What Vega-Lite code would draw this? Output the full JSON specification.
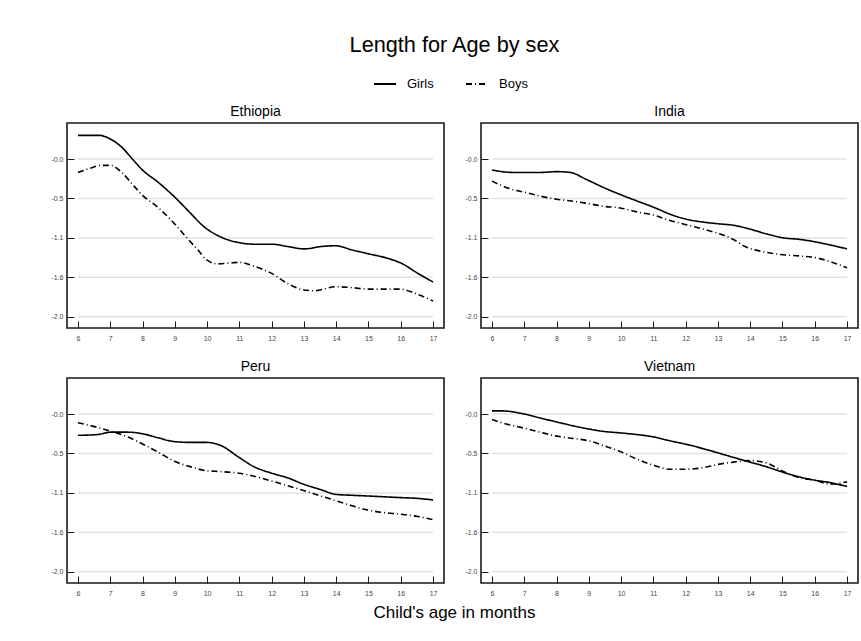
{
  "$schema": "https://vega.github.io/schema/vega-lite/v6.json",
  "background": "white",
  "padding": {"left": 50, "top": 35, "right": 2, "bottom": 5},
  "title": {"text": "Length for Age by sex", "fontSize": 21.7, "anchor": "middle", "offset": 15, "font": "Liberation Sans", "fontWeight": "normal", "color": "black"},
  "datasets": {
    "grid": [{"t": 0}, {"t": -0.5}, {"t": -1}, {"t": -1.5}, {"t": -2}],
    "main": [
      {"c":"Ethiopia","s":"Girls","m":6,"v":0.30},{"c":"Ethiopia","s":"Girls","m":6.66,"v":0.30},{"c":"Ethiopia","s":"Girls","m":7.02,"v":0.25},{"c":"Ethiopia","s":"Girls","m":7.33,"v":0.16},{"c":"Ethiopia","s":"Girls","m":7.75,"v":-0.03},{"c":"Ethiopia","s":"Girls","m":8.0,"v":-0.14},{"c":"Ethiopia","s":"Girls","m":8.47,"v":-0.29},{"c":"Ethiopia","s":"Girls","m":8.99,"v":-0.48},{"c":"Ethiopia","s":"Girls","m":9.4,"v":-0.65},{"c":"Ethiopia","s":"Girls","m":9.91,"v":-0.86},{"c":"Ethiopia","s":"Girls","m":10.43,"v":-0.99},{"c":"Ethiopia","s":"Girls","m":10.99,"v":-1.06},{"c":"Ethiopia","s":"Girls","m":11.47,"v":-1.08},{"c":"Ethiopia","s":"Girls","m":12.0,"v":-1.08},{"c":"Ethiopia","s":"Girls","m":12.5,"v":-1.11},{"c":"Ethiopia","s":"Girls","m":13.02,"v":-1.14},{"c":"Ethiopia","s":"Girls","m":13.53,"v":-1.11},{"c":"Ethiopia","s":"Girls","m":14.0,"v":-1.1},{"c":"Ethiopia","s":"Girls","m":14.46,"v":-1.15},{"c":"Ethiopia","s":"Girls","m":14.98,"v":-1.2},{"c":"Ethiopia","s":"Girls","m":15.6,"v":-1.26},{"c":"Ethiopia","s":"Girls","m":16.01,"v":-1.32},{"c":"Ethiopia","s":"Girls","m":16.53,"v":-1.45},{"c":"Ethiopia","s":"Girls","m":17.0,"v":-1.56},
      {"c":"Ethiopia","s":"Boys","m":6,"v":-0.17},{"c":"Ethiopia","s":"Boys","m":6.35,"v":-0.12},{"c":"Ethiopia","s":"Boys","m":6.71,"v":-0.08},{"c":"Ethiopia","s":"Boys","m":7.02,"v":-0.08},{"c":"Ethiopia","s":"Boys","m":7.33,"v":-0.16},{"c":"Ethiopia","s":"Boys","m":7.75,"v":-0.35},{"c":"Ethiopia","s":"Boys","m":8.0,"v":-0.46},{"c":"Ethiopia","s":"Boys","m":8.47,"v":-0.61},{"c":"Ethiopia","s":"Boys","m":8.99,"v":-0.82},{"c":"Ethiopia","s":"Boys","m":9.35,"v":-0.99},{"c":"Ethiopia","s":"Boys","m":9.71,"v":-1.15},{"c":"Ethiopia","s":"Boys","m":9.99,"v":-1.28},{"c":"Ethiopia","s":"Boys","m":10.33,"v":-1.33},{"c":"Ethiopia","s":"Boys","m":10.99,"v":-1.31},{"c":"Ethiopia","s":"Boys","m":11.46,"v":-1.36},{"c":"Ethiopia","s":"Boys","m":12.0,"v":-1.45},{"c":"Ethiopia","s":"Boys","m":12.5,"v":-1.58},{"c":"Ethiopia","s":"Boys","m":12.99,"v":-1.66},{"c":"Ethiopia","s":"Boys","m":13.32,"v":-1.67},{"c":"Ethiopia","s":"Boys","m":14.0,"v":-1.62},{"c":"Ethiopia","s":"Boys","m":14.46,"v":-1.63},{"c":"Ethiopia","s":"Boys","m":15.0,"v":-1.65},{"c":"Ethiopia","s":"Boys","m":15.99,"v":-1.65},{"c":"Ethiopia","s":"Boys","m":16.42,"v":-1.7},{"c":"Ethiopia","s":"Boys","m":17.0,"v":-1.8},
      {"c":"India","s":"Girls","m":6,"v":-0.14},{"c":"India","s":"Girls","m":6.66,"v":-0.17},{"c":"India","s":"Girls","m":7.0,"v":-0.17},{"c":"India","s":"Girls","m":7.49,"v":-0.17},{"c":"India","s":"Girls","m":8.0,"v":-0.16},{"c":"India","s":"Girls","m":8.42,"v":-0.17},{"c":"India","s":"Girls","m":8.93,"v":-0.26},{"c":"India","s":"Girls","m":9.45,"v":-0.36},{"c":"India","s":"Girls","m":9.97,"v":-0.45},{"c":"India","s":"Girls","m":10.48,"v":-0.53},{"c":"India","s":"Girls","m":11.0,"v":-0.61},{"c":"India","s":"Girls","m":11.52,"v":-0.7},{"c":"India","s":"Girls","m":11.98,"v":-0.76},{"c":"India","s":"Girls","m":12.55,"v":-0.8},{"c":"India","s":"Girls","m":12.98,"v":-0.82},{"c":"India","s":"Girls","m":13.48,"v":-0.84},{"c":"India","s":"Girls","m":14.0,"v":-0.89},{"c":"India","s":"Girls","m":14.51,"v":-0.95},{"c":"India","s":"Girls","m":15.03,"v":-1.0},{"c":"India","s":"Girls","m":15.55,"v":-1.02},{"c":"India","s":"Girls","m":16.01,"v":-1.05},{"c":"India","s":"Girls","m":16.48,"v":-1.09},{"c":"India","s":"Girls","m":17.0,"v":-1.14},
      {"c":"India","s":"Boys","m":6,"v":-0.28},{"c":"India","s":"Boys","m":6.66,"v":-0.39},{"c":"India","s":"Boys","m":7.0,"v":-0.42},{"c":"India","s":"Boys","m":7.49,"v":-0.47},{"c":"India","s":"Boys","m":8.0,"v":-0.51},{"c":"India","s":"Boys","m":8.42,"v":-0.53},{"c":"India","s":"Boys","m":8.93,"v":-0.56},{"c":"India","s":"Boys","m":9.45,"v":-0.6},{"c":"India","s":"Boys","m":9.97,"v":-0.62},{"c":"India","s":"Boys","m":10.48,"v":-0.67},{"c":"India","s":"Boys","m":11.0,"v":-0.71},{"c":"India","s":"Boys","m":11.52,"v":-0.78},{"c":"India","s":"Boys","m":11.98,"v":-0.83},{"c":"India","s":"Boys","m":12.55,"v":-0.89},{"c":"India","s":"Boys","m":12.98,"v":-0.94},{"c":"India","s":"Boys","m":13.48,"v":-1.02},{"c":"India","s":"Boys","m":13.84,"v":-1.11},{"c":"India","s":"Boys","m":14.46,"v":-1.18},{"c":"India","s":"Boys","m":14.93,"v":-1.21},{"c":"India","s":"Boys","m":15.55,"v":-1.23},{"c":"India","s":"Boys","m":16.01,"v":-1.25},{"c":"India","s":"Boys","m":16.48,"v":-1.3},{"c":"India","s":"Boys","m":17.0,"v":-1.38},
      {"c":"Peru","s":"Girls","m":6,"v":-0.27},{"c":"Peru","s":"Girls","m":6.61,"v":-0.26},{"c":"Peru","s":"Girls","m":7.02,"v":-0.23},{"c":"Peru","s":"Girls","m":7.54,"v":-0.23},{"c":"Peru","s":"Girls","m":8.0,"v":-0.25},{"c":"Peru","s":"Girls","m":8.47,"v":-0.3},{"c":"Peru","s":"Girls","m":8.99,"v":-0.35},{"c":"Peru","s":"Girls","m":9.5,"v":-0.36},{"c":"Peru","s":"Girls","m":9.99,"v":-0.36},{"c":"Peru","s":"Girls","m":10.43,"v":-0.4},{"c":"Peru","s":"Girls","m":10.99,"v":-0.55},{"c":"Peru","s":"Girls","m":11.46,"v":-0.67},{"c":"Peru","s":"Girls","m":12.0,"v":-0.75},{"c":"Peru","s":"Girls","m":12.5,"v":-0.81},{"c":"Peru","s":"Girls","m":12.99,"v":-0.89},{"c":"Peru","s":"Girls","m":13.53,"v":-0.96},{"c":"Peru","s":"Girls","m":14.0,"v":-1.02},{"c":"Peru","s":"Girls","m":14.46,"v":-1.03},{"c":"Peru","s":"Girls","m":15.0,"v":-1.04},{"c":"Peru","s":"Girls","m":15.49,"v":-1.05},{"c":"Peru","s":"Girls","m":15.99,"v":-1.06},{"c":"Peru","s":"Girls","m":16.53,"v":-1.07},{"c":"Peru","s":"Girls","m":17.0,"v":-1.09},
      {"c":"Peru","s":"Boys","m":6,"v":-0.11},{"c":"Peru","s":"Boys","m":6.61,"v":-0.17},{"c":"Peru","s":"Boys","m":7.02,"v":-0.22},{"c":"Peru","s":"Boys","m":7.54,"v":-0.29},{"c":"Peru","s":"Boys","m":8.0,"v":-0.38},{"c":"Peru","s":"Boys","m":8.47,"v":-0.48},{"c":"Peru","s":"Boys","m":8.99,"v":-0.6},{"c":"Peru","s":"Boys","m":9.5,"v":-0.67},{"c":"Peru","s":"Boys","m":9.99,"v":-0.72},{"c":"Peru","s":"Boys","m":10.43,"v":-0.73},{"c":"Peru","s":"Boys","m":10.99,"v":-0.75},{"c":"Peru","s":"Boys","m":11.46,"v":-0.79},{"c":"Peru","s":"Boys","m":12.0,"v":-0.85},{"c":"Peru","s":"Boys","m":12.5,"v":-0.91},{"c":"Peru","s":"Boys","m":12.99,"v":-0.97},{"c":"Peru","s":"Boys","m":13.53,"v":-1.04},{"c":"Peru","s":"Boys","m":14.0,"v":-1.1},{"c":"Peru","s":"Boys","m":14.46,"v":-1.16},{"c":"Peru","s":"Boys","m":15.0,"v":-1.22},{"c":"Peru","s":"Boys","m":15.49,"v":-1.25},{"c":"Peru","s":"Boys","m":15.99,"v":-1.27},{"c":"Peru","s":"Boys","m":16.53,"v":-1.3},{"c":"Peru","s":"Boys","m":17.0,"v":-1.34},
      {"c":"Vietnam","s":"Girls","m":6,"v":0.04},{"c":"Vietnam","s":"Girls","m":6.3,"v":0.04},{"c":"Vietnam","s":"Girls","m":7.0,"v":0.0},{"c":"Vietnam","s":"Girls","m":7.49,"v":-0.05},{"c":"Vietnam","s":"Girls","m":8.0,"v":-0.1},{"c":"Vietnam","s":"Girls","m":8.52,"v":-0.15},{"c":"Vietnam","s":"Girls","m":9.0,"v":-0.19},{"c":"Vietnam","s":"Girls","m":9.45,"v":-0.22},{"c":"Vietnam","s":"Girls","m":10.0,"v":-0.24},{"c":"Vietnam","s":"Girls","m":10.48,"v":-0.26},{"c":"Vietnam","s":"Girls","m":11.0,"v":-0.29},{"c":"Vietnam","s":"Girls","m":11.52,"v":-0.34},{"c":"Vietnam","s":"Girls","m":11.98,"v":-0.38},{"c":"Vietnam","s":"Girls","m":12.55,"v":-0.44},{"c":"Vietnam","s":"Girls","m":12.98,"v":-0.49},{"c":"Vietnam","s":"Girls","m":13.48,"v":-0.55},{"c":"Vietnam","s":"Girls","m":14.0,"v":-0.61},{"c":"Vietnam","s":"Girls","m":14.51,"v":-0.67},{"c":"Vietnam","s":"Girls","m":15.03,"v":-0.74},{"c":"Vietnam","s":"Girls","m":15.55,"v":-0.8},{"c":"Vietnam","s":"Girls","m":16.01,"v":-0.84},{"c":"Vietnam","s":"Girls","m":16.48,"v":-0.87},{"c":"Vietnam","s":"Girls","m":17.0,"v":-0.92},
      {"c":"Vietnam","s":"Boys","m":6,"v":-0.07},{"c":"Vietnam","s":"Boys","m":6.3,"v":-0.11},{"c":"Vietnam","s":"Boys","m":7.0,"v":-0.18},{"c":"Vietnam","s":"Boys","m":7.49,"v":-0.23},{"c":"Vietnam","s":"Boys","m":8.0,"v":-0.28},{"c":"Vietnam","s":"Boys","m":8.52,"v":-0.31},{"c":"Vietnam","s":"Boys","m":9.0,"v":-0.34},{"c":"Vietnam","s":"Boys","m":9.45,"v":-0.4},{"c":"Vietnam","s":"Boys","m":10.0,"v":-0.48},{"c":"Vietnam","s":"Boys","m":10.48,"v":-0.57},{"c":"Vietnam","s":"Boys","m":11.0,"v":-0.65},{"c":"Vietnam","s":"Boys","m":11.52,"v":-0.7},{"c":"Vietnam","s":"Boys","m":11.98,"v":-0.7},{"c":"Vietnam","s":"Boys","m":12.55,"v":-0.68},{"c":"Vietnam","s":"Boys","m":12.98,"v":-0.64},{"c":"Vietnam","s":"Boys","m":13.48,"v":-0.61},{"c":"Vietnam","s":"Boys","m":14.0,"v":-0.59},{"c":"Vietnam","s":"Boys","m":14.51,"v":-0.62},{"c":"Vietnam","s":"Boys","m":15.03,"v":-0.73},{"c":"Vietnam","s":"Boys","m":15.55,"v":-0.81},{"c":"Vietnam","s":"Boys","m":16.01,"v":-0.84},{"c":"Vietnam","s":"Boys","m":16.48,"v":-0.89},{"c":"Vietnam","s":"Boys","m":17.0,"v":-0.86}
    ]
  },
  "vconcat": [
    {
      "title": {"text": "Child's age in months", "orient": "bottom", "fontSize": 17, "anchor": "middle", "offset": 8, "font": "Liberation Sans", "fontWeight": "normal", "color": "black"},
      "columns": 2,
      "bounds": "flush",
      "spacing": {"row": 50, "column": 37},
      "concat": [
        {"title": {"text": "Ethiopia", "fontSize": 14, "anchor": "middle", "frame": "group", "offset": 4, "font": "Liberation Sans", "fontWeight": "normal", "color": "black"},
         "width": 377, "height": 205,
         "layer": [
          {"data": {"name": "grid"}, "mark": {"type": "rule", "color": "#e2e2e2", "strokeWidth": 1.5},
           "encoding": {
             "y": {"field": "t", "type": "quantitative", "scale": {"domain": [-2.143, 0.457], "nice": false, "zero": false}, "axis": {"title": null, "values": [0, -0.5, -1, -1.5, -2], "labelExpr": "datum.value == 0 ? '-0.0' : datum.value == -0.5 ? '-0.5' : datum.value == -1 ? '-1.1' : datum.value == -1.5 ? '-1.6' : '-2.0'"}},
             "x": {"datum": 6, "type": "quantitative", "scale": {"domain": [5.66, 17.34], "nice": false, "zero": false}, "axis": {"title": null, "values": [6,7,8,9,10,11,12,13,14,15,16,17]}},
             "x2": {"datum": 17}}},
          {"data": {"name": "main"}, "transform": [{"filter": "datum.c === 'Ethiopia'"}],
           "mark": {"type": "line", "color": "black", "strokeWidth": 1.6, "interpolate": "monotone"},
           "encoding": {
             "x": {"field": "m", "type": "quantitative", "scale": {"domain": [5.66, 17.34], "nice": false, "zero": false}, "axis": {"title": null, "values": [6,7,8,9,10,11,12,13,14,15,16,17]}},
             "y": {"field": "v", "type": "quantitative", "scale": {"domain": [-2.143, 0.457], "nice": false, "zero": false}, "axis": {"title": null, "values": [0, -0.5, -1, -1.5, -2], "labelExpr": "datum.value == 0 ? '-0.0' : datum.value == -0.5 ? '-0.5' : datum.value == -1 ? '-1.1' : datum.value == -1.5 ? '-1.6' : '-2.0'"}},
             "strokeDash": {"field": "s", "type": "nominal", "scale": {"domain": ["Girls", "Boys"], "range": [[1, 0], [6, 3, 1, 3]]}, "legend": {"title": null, "orient": "none", "legendX": 306, "legendY": -51, "direction": "horizontal"}}}}
         ]},
        {"title": {"text": "India", "fontSize": 14, "anchor": "middle", "frame": "group", "offset": 4, "font": "Liberation Sans", "fontWeight": "normal", "color": "black"},
         "width": 377, "height": 205,
         "layer": [
          {"data": {"name": "grid"}, "mark": {"type": "rule", "color": "#e2e2e2", "strokeWidth": 1.5},
           "encoding": {
             "y": {"field": "t", "type": "quantitative", "scale": {"domain": [-2.143, 0.457], "nice": false, "zero": false}, "axis": {"title": null, "values": [0, -0.5, -1, -1.5, -2], "labelExpr": "datum.value == 0 ? '-0.0' : datum.value == -0.5 ? '-0.5' : datum.value == -1 ? '-1.1' : datum.value == -1.5 ? '-1.6' : '-2.0'"}},
             "x": {"datum": 6, "type": "quantitative", "scale": {"domain": [5.66, 17.34], "nice": false, "zero": false}, "axis": {"title": null, "values": [6,7,8,9,10,11,12,13,14,15,16,17]}},
             "x2": {"datum": 17}}},
          {"data": {"name": "main"}, "transform": [{"filter": "datum.c === 'India'"}],
           "mark": {"type": "line", "color": "black", "strokeWidth": 1.6, "interpolate": "monotone"},
           "encoding": {
             "x": {"field": "m", "type": "quantitative", "scale": {"domain": [5.66, 17.34], "nice": false, "zero": false}, "axis": {"title": null, "values": [6,7,8,9,10,11,12,13,14,15,16,17]}},
             "y": {"field": "v", "type": "quantitative", "scale": {"domain": [-2.143, 0.457], "nice": false, "zero": false}, "axis": {"title": null, "values": [0, -0.5, -1, -1.5, -2], "labelExpr": "datum.value == 0 ? '-0.0' : datum.value == -0.5 ? '-0.5' : datum.value == -1 ? '-1.1' : datum.value == -1.5 ? '-1.6' : '-2.0'"}},
             "strokeDash": {"field": "s", "type": "nominal", "scale": {"domain": ["Girls", "Boys"], "range": [[1, 0], [6, 3, 1, 3]]}, "legend": {"title": null, "orient": "none", "legendX": 306, "legendY": -51, "direction": "horizontal"}}}}
         ]},
        {"title": {"text": "Peru", "fontSize": 14, "anchor": "middle", "frame": "group", "offset": 4, "font": "Liberation Sans", "fontWeight": "normal", "color": "black"},
         "width": 377, "height": 205,
         "layer": [
          {"data": {"name": "grid"}, "mark": {"type": "rule", "color": "#e2e2e2", "strokeWidth": 1.5},
           "encoding": {
             "y": {"field": "t", "type": "quantitative", "scale": {"domain": [-2.143, 0.457], "nice": false, "zero": false}, "axis": {"title": null, "values": [0, -0.5, -1, -1.5, -2], "labelExpr": "datum.value == 0 ? '-0.0' : datum.value == -0.5 ? '-0.5' : datum.value == -1 ? '-1.1' : datum.value == -1.5 ? '-1.6' : '-2.0'"}},
             "x": {"datum": 6, "type": "quantitative", "scale": {"domain": [5.66, 17.34], "nice": false, "zero": false}, "axis": {"title": null, "values": [6,7,8,9,10,11,12,13,14,15,16,17]}},
             "x2": {"datum": 17}}},
          {"data": {"name": "main"}, "transform": [{"filter": "datum.c === 'Peru'"}],
           "mark": {"type": "line", "color": "black", "strokeWidth": 1.6, "interpolate": "monotone"},
           "encoding": {
             "x": {"field": "m", "type": "quantitative", "scale": {"domain": [5.66, 17.34], "nice": false, "zero": false}, "axis": {"title": null, "values": [6,7,8,9,10,11,12,13,14,15,16,17]}},
             "y": {"field": "v", "type": "quantitative", "scale": {"domain": [-2.143, 0.457], "nice": false, "zero": false}, "axis": {"title": null, "values": [0, -0.5, -1, -1.5, -2], "labelExpr": "datum.value == 0 ? '-0.0' : datum.value == -0.5 ? '-0.5' : datum.value == -1 ? '-1.1' : datum.value == -1.5 ? '-1.6' : '-2.0'"}},
             "strokeDash": {"field": "s", "type": "nominal", "scale": {"domain": ["Girls", "Boys"], "range": [[1, 0], [6, 3, 1, 3]]}, "legend": {"title": null, "orient": "none", "legendX": 306, "legendY": -51, "direction": "horizontal"}}}}
         ]},
        {"title": {"text": "Vietnam", "fontSize": 14, "anchor": "middle", "frame": "group", "offset": 4, "font": "Liberation Sans", "fontWeight": "normal", "color": "black"},
         "width": 377, "height": 205,
         "layer": [
          {"data": {"name": "grid"}, "mark": {"type": "rule", "color": "#e2e2e2", "strokeWidth": 1.5},
           "encoding": {
             "y": {"field": "t", "type": "quantitative", "scale": {"domain": [-2.143, 0.457], "nice": false, "zero": false}, "axis": {"title": null, "values": [0, -0.5, -1, -1.5, -2], "labelExpr": "datum.value == 0 ? '-0.0' : datum.value == -0.5 ? '-0.5' : datum.value == -1 ? '-1.1' : datum.value == -1.5 ? '-1.6' : '-2.0'"}},
             "x": {"datum": 6, "type": "quantitative", "scale": {"domain": [5.66, 17.34], "nice": false, "zero": false}, "axis": {"title": null, "values": [6,7,8,9,10,11,12,13,14,15,16,17]}},
             "x2": {"datum": 17}}},
          {"data": {"name": "main"}, "transform": [{"filter": "datum.c === 'Vietnam'"}],
           "mark": {"type": "line", "color": "black", "strokeWidth": 1.6, "interpolate": "monotone"},
           "encoding": {
             "x": {"field": "m", "type": "quantitative", "scale": {"domain": [5.66, 17.34], "nice": false, "zero": false}, "axis": {"title": null, "values": [6,7,8,9,10,11,12,13,14,15,16,17]}},
             "y": {"field": "v", "type": "quantitative", "scale": {"domain": [-2.143, 0.457], "nice": false, "zero": false}, "axis": {"title": null, "values": [0, -0.5, -1, -1.5, -2], "labelExpr": "datum.value == 0 ? '-0.0' : datum.value == -0.5 ? '-0.5' : datum.value == -1 ? '-1.1' : datum.value == -1.5 ? '-1.6' : '-2.0'"}},
             "strokeDash": {"field": "s", "type": "nominal", "scale": {"domain": ["Girls", "Boys"], "range": [[1, 0], [6, 3, 1, 3]]}, "legend": {"title": null, "orient": "none", "legendX": 306, "legendY": -51, "direction": "horizontal"}}}}
         ]}
      ]
    }
  ],
  "config": {
    "view": {"stroke": "#1a1a1a", "strokeWidth": 1.6},
    "title": {"fontWeight": "normal", "font": "Liberation Sans"},
    "axis": {"domain": false, "grid": false, "ticks": true, "tickColor": "#1a1a1a", "tickWidth": 1, "tickSize": -7, "labelFont": "Liberation Sans", "labelFontSize": 7, "labelColor": "#444444", "labelFlush": false, "labelOverlap": false, "labelBound": false},
    "axisX": {"labelPadding": 13},
    "axisY": {"labelPadding": 11},
    "legend": {"symbolType": "stroke", "symbolStrokeColor": "black", "symbolStrokeWidth": 2, "symbolSize": 484, "labelFont": "Liberation Sans", "labelFontSize": 13, "labelColor": "black", "labelOffset": 10, "columnPadding": 28, "padding": 0}
  }
}
